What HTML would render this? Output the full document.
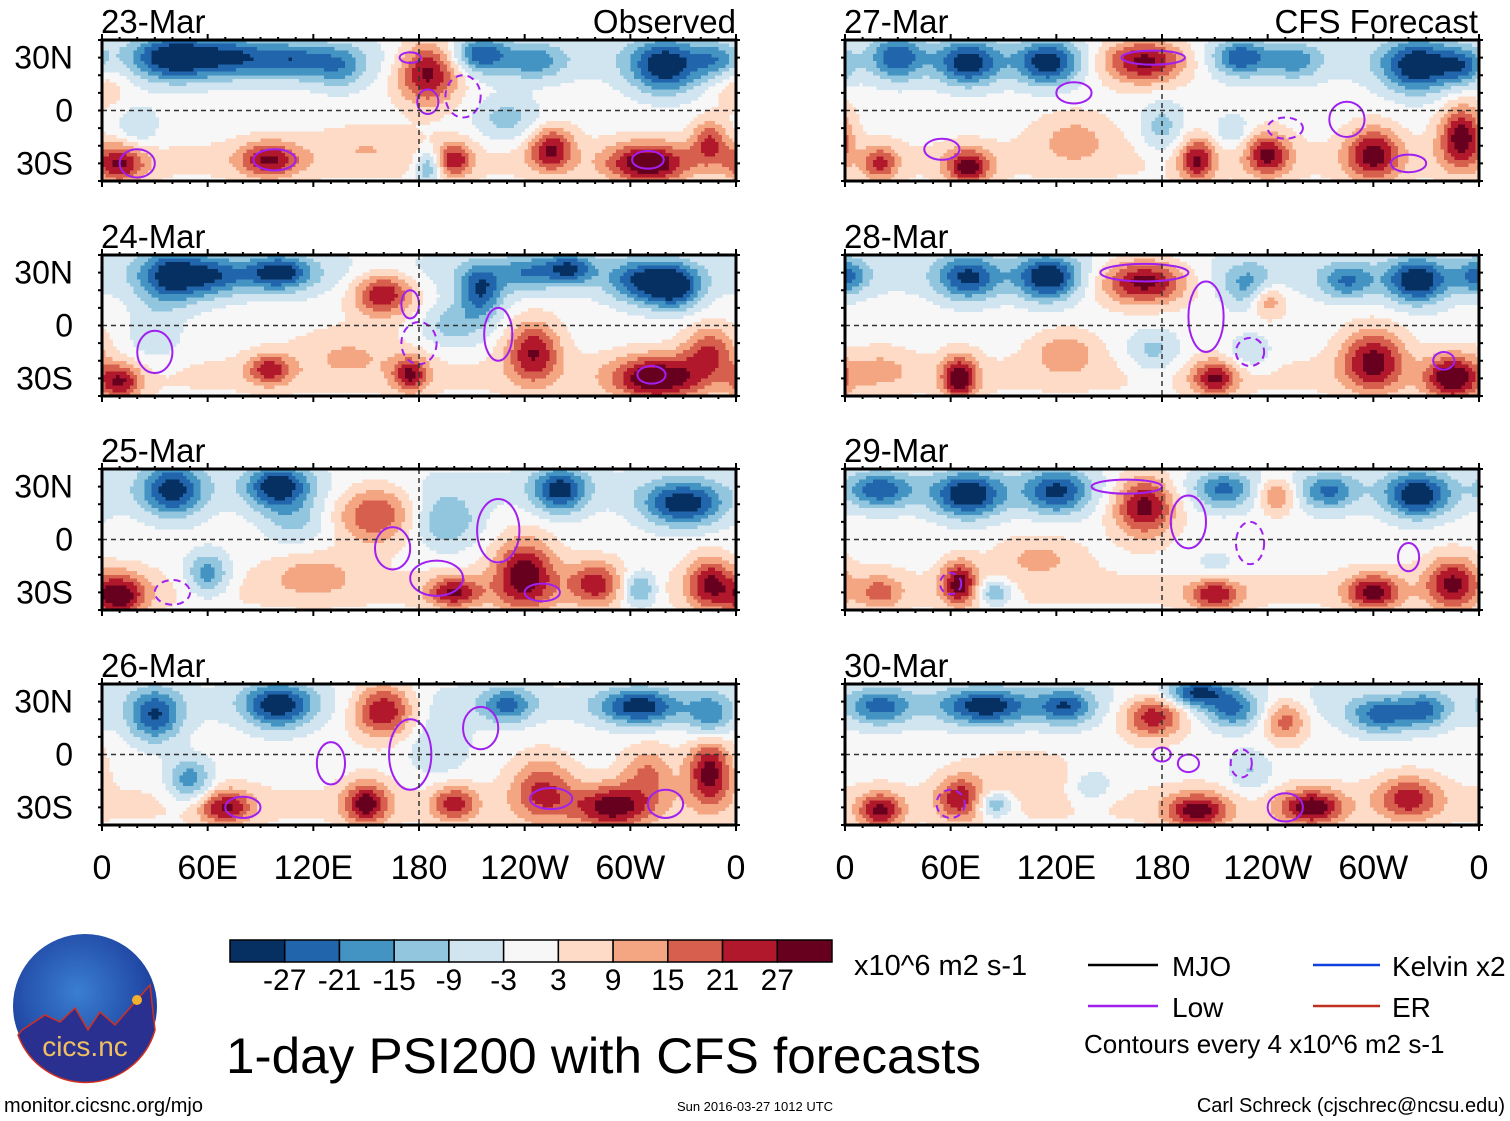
<!DOCTYPE html>
<html><head><meta charset="utf-8"><style>
html,body{margin:0;padding:0;background:#fff;}
svg{display:block;font-family:"Liberation Sans",sans-serif;}
</style></head><body>
<svg id="chart" width="1510" height="1121" viewBox="0 0 1510 1121" style="position:absolute;left:0;top:0">
<defs id="defs"></defs>
<g id="panels"></g>
<g id="legendArea"></g>
</svg>
<script>
// ---- data ----
const panelDates = ["23-Mar","24-Mar","25-Mar","26-Mar","27-Mar","28-Mar","29-Mar","30-Mar"];
const lonTickLabels = ["0","60E","120E","180","120W","60W","0"];
const lonTickValues = [0,60,120,180,240,300,360];
const latTickLabels = ["30N","0","30S"];
const latTickValues = [30,0,-30];
const cbarLevels = [-27,-21,-15,-9,-3,3,9,15,21,27];
const cbarColors = ["#053061","#2166ac","#4393c3","#92c5de","#d1e5f0","#f7f7f7","#fddbc7","#f4a582","#d6604d","#b2182b","#67001f"];
// background tendency per panel (north band / south band)
const northBias = [-5,-5,-4,-4,-5,-5,-5,-5];
const southBias = [4,4,4,4,4,4,4,4];
// anomaly centres: [lon, lat, value, lon-radius, lat-radius]
const field0 = [[150,-20,6,25,10],[40,30,-30,18,10],[75,30,-22,20,9],[110,28,-18,15,8],[135,25,-15,12,10],[185,22,32,14,14],[215,32,-22,12,8],[245,28,-15,14,8],[320,25,-30,16,12],[350,28,-15,10,8],[10,-30,25,12,9],[95,-28,25,14,8],[200,-28,22,8,8],[255,-22,26,10,10],[310,-30,32,18,9],[345,-18,20,8,10],[230,-5,-12,15,10],[20,-10,-9,10,10],[185,-32,-18,6,8],[0,15,8,12,12]];
const field1 = [[140,-15,8,25,12],[40,28,-28,15,12],[65,28,-18,14,9],[100,30,-28,15,8],[160,18,28,14,10],[215,20,-25,10,12],[240,30,-15,12,8],[265,32,-25,12,7],[305,25,-22,14,10],[325,22,-30,12,10],[200,0,-12,15,10],[10,-32,25,10,8],[95,-25,22,10,7],[175,-28,25,8,8],[245,-15,26,12,14],[315,-30,32,20,10],[345,-15,20,12,12],[30,-5,-8,12,15]];
const field2 = [[120,-20,10,20,10],[40,28,-28,14,12],[100,30,-30,14,10],[155,15,22,18,14],[195,10,-15,15,12],[260,28,-28,12,10],[330,20,-30,18,10],[10,-32,30,12,10],[60,-20,-20,10,10],[200,-30,25,12,7],[240,-20,30,14,16],[280,-25,22,12,10],[305,-28,-20,8,8],[345,-25,25,10,12],[110,10,-10,15,10]];
const field3 = [[30,22,-25,12,12],[100,28,-30,15,10],[160,25,30,14,12],[230,28,-20,12,8],[305,27,-28,18,8],[345,22,-18,10,10],[70,-30,25,12,8],[150,-28,28,10,10],[200,-28,22,10,8],[250,-20,20,14,15],[290,-30,28,18,10],[345,-10,30,10,15],[50,-15,-20,10,10],[310,-10,15,12,12],[190,5,-8,15,15]];
const field4 = [[130,-15,10,18,12],[30,30,-22,12,10],[70,27,-28,14,10],[115,27,-28,14,10],[170,28,34,20,10],[225,30,-22,12,8],[255,28,-15,12,8],[325,25,-30,16,12],[350,25,-18,10,8],[70,-32,28,10,8],[200,-28,25,8,10],[240,-25,26,10,10],[300,-25,28,12,12],[350,-15,30,10,14],[180,-10,-12,10,12],[220,-12,-8,10,8],[20,-30,20,8,8]];
const field5 = [[20,-25,8,15,10],[125,-15,12,15,10],[0,28,-20,10,8],[70,27,-25,14,10],[115,27,-30,14,10],[170,25,34,20,10],[230,22,-15,12,10],[240,15,18,8,8],[285,25,-18,12,8],[325,25,-30,14,10],[65,-30,30,8,10],[175,-15,-12,12,10],[210,-30,25,10,8],[230,-15,-10,10,8],[300,-20,28,14,14],[345,-30,32,12,10]];
const field6 = [[110,-10,10,20,10],[20,28,-22,14,8],[70,25,-30,16,10],[120,27,-25,14,10],[170,20,32,14,14],[215,28,-18,12,8],[245,25,20,8,8],[275,27,-18,12,8],[325,25,-30,14,10],[65,-25,28,8,10],[210,-20,-10,12,10],[210,-30,28,12,8],[300,-30,28,12,8],[345,-25,26,12,12],[20,-30,15,10,8],[85,-30,-18,8,6]];
const field7 = [[100,-10,8,25,10],[20,27,-20,14,8],[80,27,-28,20,8],[125,27,-22,12,8],[175,22,28,14,10],[200,35,-26,14,6],[220,25,-18,12,8],[250,20,20,10,10],[305,22,-22,14,8],[330,25,-18,10,8],[20,-32,26,10,8],[65,-25,22,10,10],[85,-28,-18,8,6],[140,-18,-10,10,8],[200,-32,28,14,8],[230,-10,-10,10,10],[265,-30,30,14,8],[320,-25,22,14,10]];
const fields = [field0,field1,field2,field3,field4,field5,field6,field7];
// low-frequency contours: [lon, lat, lon-radius, lat-radius, dashed(1)/solid(0)]
const lows0 = [[185,5,6,7,0],[98,-28,12,6,0],[20,-30,10,8,0],[310,-28,9,5,0],[205,8,10,12,1],[175,30,6,3,0]];
const lows1 = [[175,12,5,8,0],[225,-5,8,15,0],[180,-10,10,12,1],[312,-28,8,5,0],[30,-15,10,12,0]];
const lows2 = [[225,5,12,18,0],[165,-5,10,12,0],[190,-22,15,10,0],[40,-30,10,7,1],[250,-30,10,5,0]];
const lows3 = [[130,-5,8,12,0],[175,0,12,20,0],[215,15,10,12,0],[255,-25,12,6,0],[80,-30,10,6,0],[320,-28,10,8,0]];
const lows4 = [[175,30,18,4,0],[130,10,10,6,0],[285,-5,10,10,0],[250,-10,10,6,1],[55,-22,10,6,0],[320,-30,10,5,0]];
const lows5 = [[170,30,25,5,0],[205,5,10,20,0],[230,-15,8,8,1],[340,-20,6,5,0]];
const lows6 = [[160,30,20,4,0],[195,10,10,15,0],[230,-2,8,12,1],[320,-10,6,8,0],[60,-25,6,6,1]];
const lows7 = [[180,0,5,4,0],[195,-5,6,5,0],[225,-5,6,8,1],[250,-30,10,8,0],[60,-28,8,8,1]];
const lowsAll = [lows0,lows1,lows2,lows3,lows4,lows5,lows6,lows7];

// ---- layout ----
const NS="http://www.w3.org/2000/svg";
const colX=[102,845], rowY=[40,255,469,684], PW=634, PH=141;
function mk(tag,attrs,parent){const e=document.createElementNS(NS,tag);for(const k in attrs)e.setAttribute(k,attrs[k]);if(parent)parent.appendChild(e);return e;}
function xScale(x0,lon){return x0+lon/360*PW;}
function yScale(y0,lat){return y0+(40-lat)/80*PH;}
function colorIdx(v){let i=0;while(i<cbarLevels.length&&v>cbarLevels[i])i++;return i;}
function fieldAt(p,lon,lat){
  let s=northBias[p]*Math.exp(-Math.pow((lat-30)/14,2))+southBias[p]*Math.exp(-Math.pow((lat+28)/14,2));
  for(const b of fields[p]){
    let d=lon-b[0]; if(d>180)d-=360; if(d<-180)d+=360;
    const rl=b[3]*1.25, rt=b[4]*1.25;
    s+=b[2]*Math.exp(-(d*d/(rl*rl)+(lat-b[1])*(lat-b[1])/(rt*rt)));
  }
  return s;
}
const defs=document.getElementById('defs');
const panelsG=document.getElementById('panels');
const DL=2, DT=2;

for(let p=0;p<8;p++){
  const x0=colX[p<4?0:1], y0=rowY[p%4];
  const g=mk('g',{},panelsG);
  
  
  const cp=mk('clipPath',{id:'cp'+p},defs);
  mk('rect',{x:x0,y:y0,width:PW,height:PH},cp);
  mk('rect',{x:x0,y:y0,width:PW,height:PH,fill:'#f7f7f7'},g);
  const fg=mk('g',{'clip-path':'url(#cp'+p+')','shape-rendering':'crispEdges'},g);
  
  
  const cw=DL/360*PW+0.6, ch=DT/80*PH+0.6;
  for(let lat=40;lat>-40;lat-=DT){
    for(let lon=0;lon<360;lon+=DL){
      const v=fieldAt(p,lon+DL/2,lat-DT/2);
      const ci=colorIdx(v);
      if(ci===5)continue;
      mk('rect',{x:xScale(x0,lon).toFixed(1),y:yScale(y0,lat).toFixed(1),width:cw.toFixed(2),height:ch.toFixed(2),fill:cbarColors[ci]},fg);
    }
  }
  const lg2=mk('g',{'clip-path':'url(#cp'+p+')'},g);
  for(const c of lowsAll[p]){
    const [lon,lat,rl,rt,d]=c;
    const e=mk('ellipse',{cx:xScale(x0,lon),cy:yScale(y0,lat),rx:rl/360*PW,ry:rt/80*PH,fill:'none',stroke:'#a020f0','stroke-width':2,'stroke-dasharray':d?'7,5':'none'},lg2);
    
    
  }
  mk('line',{x1:x0,x2:x0+PW,y1:yScale(y0,0),y2:yScale(y0,0),stroke:'#333','stroke-width':1.5,'stroke-dasharray':'5,4'},g);
  mk('line',{x1:xScale(x0,180),x2:xScale(x0,180),y1:y0,y2:y0+PH,stroke:'#333','stroke-width':1.5,'stroke-dasharray':'5,4'},g);
  mk('rect',{x:x0,y:y0,width:PW,height:PH,fill:'none',stroke:'#000','stroke-width':3},g);
  for(let lon=0;lon<=360;lon+=10){
    const big=lon%60===0, xx=xScale(x0,lon);
    mk('line',{x1:xx,x2:xx,y1:y0-(big?6:3),y2:y0,stroke:'#000','stroke-width':2},g);
    mk('line',{x1:xx,x2:xx,y1:y0+PH,y2:y0+PH+(big?6:3),stroke:'#000','stroke-width':2},g);
  }
  for(let lat=-40;lat<=40;lat+=10){
    const yy=yScale(y0,lat);
    mk('line',{x1:x0-4,x2:x0,y1:yy,y2:yy,stroke:'#000','stroke-width':2},g);
    mk('line',{x1:x0+PW,x2:x0+PW+4,y1:yy,y2:yy,stroke:'#000','stroke-width':2},g);
  }
  const t=mk('text',{x:x0-1,y:y0-7,'font-size':33,fill:'#000'},g);t.textContent=panelDates[p];
  
  if(p<4){
    latTickValues.forEach((lv,i)=>{
      const tl=mk('text',{x:x0-29,y:yScale(y0,lv)+11,'font-size':32,'text-anchor':'end'},g);
      tl.textContent=latTickLabels[i];
      
    });
  }
  if(p%4===3){
    lonTickValues.forEach((lv,i)=>{
      const tl=mk('text',{x:xScale(x0,lv),y:y0+PH+54,'font-size':34,'text-anchor':'middle'},g);
      tl.textContent=lonTickLabels[i];
      
    });
  }
}
const tObs=mk('text',{x:736,y:33,'font-size':33,'text-anchor':'end'},panelsG);tObs.textContent='Observed';

const tCfs=mk('text',{x:1478,y:33,'font-size':33,'text-anchor':'end'},panelsG);tCfs.textContent='CFS Forecast';


// ---- colorbar ----
const lg=document.getElementById('legendArea');
const cb=mk('g',{},lg);

const cbx=230, cbw=602/11;
cbarColors.forEach((c,i)=>{mk('rect',{x:cbx+i*cbw,y:940,width:cbw,height:22,fill:c,stroke:'#000','stroke-width':1.5},cb);});
cbarLevels.forEach((v,i)=>{
  const t=mk('text',{x:cbx+(i+1)*cbw,y:990,'font-size':30,'text-anchor':'middle'},cb);t.textContent=v;
  
});
</script>
<svg style="position:absolute;left:0;top:0" width="1510" height="1121">
<g><text x="854" y="975" font-size="29" font-family="Liberation Sans, sans-serif">x10^6 m2 s-1</text></g>
<g font-family="Liberation Sans, sans-serif" font-size="28">
<line x1="1088" x2="1158" y1="965" y2="965" stroke="#000" stroke-width="2.5"/><text x="1172" y="976">MJO</text>
<line x1="1088" x2="1158" y1="1006" y2="1006" stroke="#a020f0" stroke-width="2.5"/><text x="1172" y="1017">Low</text>
<line x1="1313" x2="1380" y1="965" y2="965" stroke="#1040e0" stroke-width="2.5"/><text x="1392" y="976">Kelvin x2</text>
<line x1="1313" x2="1380" y1="1006" y2="1006" stroke="#c03020" stroke-width="2.5"/><text x="1392" y="1017">ER</text>
<text x="1084" y="1053" font-size="26">Contours every 4 x10^6 m2 s-1</text>
</g>
<text x="226" y="1073" font-size="50" font-family="Liberation Sans, sans-serif" textLength="755" lengthAdjust="spacingAndGlyphs">1-day PSI200 with CFS forecasts</text>
<text x="4" y="1112" font-size="20" font-family="Liberation Sans, sans-serif">monitor.cicsnc.org/mjo</text>
<text x="755" y="1111" font-size="13" text-anchor="middle" font-family="Liberation Sans, sans-serif">Sun 2016-03-27 1012 UTC</text>
<text x="1505" y="1112" font-size="20" text-anchor="end" font-family="Liberation Sans, sans-serif">Carl Schreck (cjschrec@ncsu.edu)</text>
<g>
<defs><radialGradient id="lgr" cx="0.45" cy="0.4" r="0.6"><stop offset="0" stop-color="#3a7fd0"/><stop offset="1" stop-color="#1a3a9a"/></radialGradient></defs>
<circle cx="85" cy="1006" r="72" fill="url(#lgr)"/>
<path d="M22,1030 L45,1015 L60,1022 L75,1008 L88,1030 L100,1012 L115,1025 L150,985 L155,1030 A72,72 0 0 1 18,1035 Z" fill="#2a3090" stroke="#d03020" stroke-width="1.5"/>
<circle cx="137" cy="1000" r="5" fill="#f0b030"/>
<text x="85" y="1056" font-size="28" fill="#f0c060" text-anchor="middle" font-family="Liberation Sans, sans-serif">cics.nc</text>
</g>
</svg>
</body></html>
